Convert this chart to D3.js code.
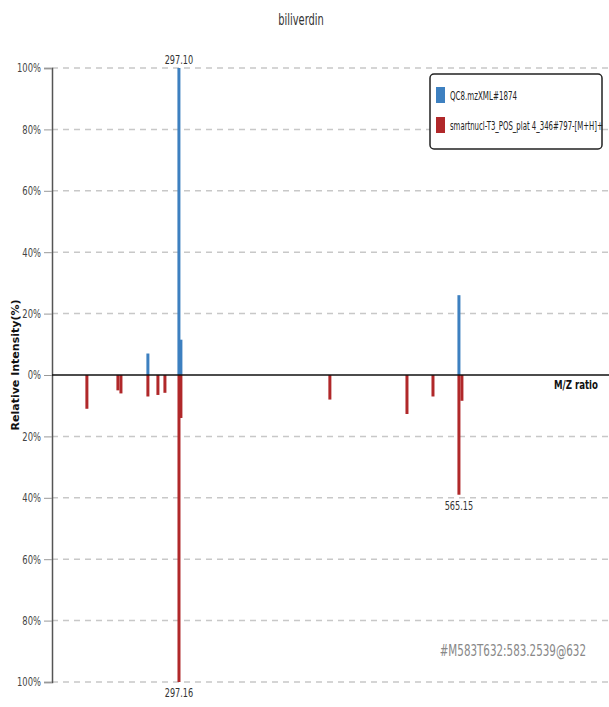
<!DOCTYPE html>
<html>
<head>
<meta charset="utf-8">
<script src="https://cdn.jsdelivr.net/npm/d3@7"></script>
<style>
    body { margin: 0; background: #fff; }
    text { font-family: "DejaVu Sans", sans-serif; }
</style>
</head>
<body>
<div id="chart"></div>
<script>
// spectrum data (m/z, relative intensity %)
var queryMz = [267.4, 297.10, 299.0, 565.15];
var queryIntensity = [7, 100, 11.5, 26];
var refMz = [209.0, 238.7, 241.6, 267.4, 277.0, 283.7, 297.16, 299.0, 441.6, 515.4, 540.3, 565.15, 568.0];
var refIntensity = [11, 5, 6, 7, 6.5, 5.8, 100, 14, 8, 12.7, 7, 39, 8.4];
var yTicks = [-100, -80, -60, -40, -20, 0, 20, 40, 60, 80, 100];
var seriesNames = ["QC8.mzXML#1874", "smartnucl-T3_POS_plat 4_346#797-[M+H]+"];
var peakLabels = [
    { mz: 297.10, value: 100, text: "297.10" },
    { mz: 297.16, value: -100, text: "297.16" },
    { mz: 565.15, value: -39, text: "565.15" }
];

// squeeze text horizontally (the original uses a narrow font)
// f < 1 is a factor, f > 1 is a target width in px
function condense(sel, f) {
    sel.each(function() {
        var t = d3.select(this);
        var k = f > 1 ? f / this.getComputedTextLength() : f;
        var x = +t.attr("x") || 0;
        var y = +t.attr("y") || 0;
        var prev = t.attr("transform") || "";
        t.attr("x", 0).attr("y", 0)
            .attr("transform", prev + " translate(" + x + "," + y + ") scale(" + k + ",1)");
    });
}

function init() {
    var w = 609;
    var h = 707;
    var left = 52;
    var top = 68;
    var bottom = 682;
    var blue = "#3d80c0";
    var red = "#b0282a";

    var svg = d3.select("#chart")
        .append("svg")
        .attr("width", w)
        .attr("height", h);

    var xScale = d3.scaleLinear()
        .domain([175.6, 708.8])
        .range([left, w]);

    var yScale = d3.scaleLinear()
        .domain([-100, 100])
        .range([bottom, top]);

    // title
    svg.append("text")
        .attr("x", 301)
        .attr("y", 25)
        .attr("text-anchor", "middle")
        .attr("font-size", 15)
        .attr("fill", "#333")
        .text("biliverdin")
        .call(condense, 0.66);

    // dashed grid lines
    svg.selectAll(".grid")
        .data(yTicks.filter(function(d) { return d !== 0; }))
        .enter()
        .append("line")
        .attr("class", "grid")
        .attr("x1", left)
        .attr("x2", w)
        .attr("y1", function(d) { return yScale(d); })
        .attr("y2", function(d) { return yScale(d); })
        .attr("stroke", "#c8c8c8")
        .attr("stroke-width", 1.5)
        .attr("stroke-dasharray", "6,5");

    // y axis
    var yAxis = d3.axisLeft(yScale)
        .tickValues(yTicks)
        .tickSize(8)
        .tickFormat(function(d) { return Math.abs(d) + "%"; });

    var gy = svg.append("g")
        .attr("transform", "translate(" + left + ",0)")
        .call(yAxis);
    gy.select(".domain").attr("stroke", "#555").attr("stroke-width", 1.5);
    gy.selectAll(".tick line").attr("stroke", "#999");
    gy.selectAll(".tick text")
        .attr("font-size", 12)
        .attr("fill", "#444")
        .attr("font-family", "'DejaVu Sans', sans-serif")
        .call(condense, 0.7);

    svg.append("text")
        .attr("transform", "translate(19," + 365 + ") rotate(-90)")
        .attr("text-anchor", "middle")
        .attr("font-size", 11)
        .attr("font-weight", "bold")
        .attr("fill", "#111")
        .text("Relative Intensity(%)");

    // bars: query series up, reference series down
    svg.selectAll(".qbar")
        .data(queryMz)
        .enter()
        .append("rect")
        .attr("class", "qbar")
        .attr("x", function(d) { return xScale(d) - 1.5; })
        .attr("y", function(d, i) { return yScale(queryIntensity[i]); })
        .attr("width", 3)
        .attr("height", function(d, i) { return yScale(0) - yScale(queryIntensity[i]); })
        .attr("fill", blue);

    svg.selectAll(".rbar")
        .data(refMz)
        .enter()
        .append("rect")
        .attr("class", "rbar")
        .attr("x", function(d) { return xScale(d) - 1.5; })
        .attr("y", yScale(0))
        .attr("width", 3)
        .attr("height", function(d, i) { return yScale(-refIntensity[i]) - yScale(0); })
        .attr("fill", red);

    // zero line
    svg.append("line")
        .attr("x1", left)
        .attr("x2", w)
        .attr("y1", yScale(0))
        .attr("y2", yScale(0))
        .attr("stroke", "#111")
        .attr("stroke-width", 1.5);

    svg.append("text")
        .attr("x", 598)
        .attr("y", 389)
        .attr("text-anchor", "end")
        .attr("font-size", 12)
        .attr("font-weight", "bold")
        .attr("fill", "#111")
        .text("M/Z ratio")
        .call(condense, 0.72);

    // peak labels
    svg.selectAll(".plabel")
        .data(peakLabels)
        .enter()
        .append("text")
        .attr("class", "plabel")
        .attr("x", function(d) { return xScale(d.mz); })
        .attr("y", function(d) { return d.value > 0 ? yScale(d.value) - 4 : yScale(d.value) + 15; })
        .attr("text-anchor", "middle")
        .attr("font-size", 12)
        .attr("fill", "#333")
        .text(function(d) { return d.text; })
        .call(condense, 0.68);

    // legend
    var legend = svg.append("g");
    legend.append("rect")
        .attr("x", 430)
        .attr("y", 74)
        .attr("width", 172)
        .attr("height", 75)
        .attr("rx", 4)
        .attr("fill", "#fff")
        .attr("stroke", "#222")
        .attr("stroke-width", 1.5);

    legend.selectAll(".sw")
        .data(seriesNames)
        .enter()
        .append("rect")
        .attr("x", 436)
        .attr("y", function(d, i) { return 87 + i * 30; })
        .attr("width", 9)
        .attr("height", 16)
        .attr("fill", function(d, i) { return i === 0 ? blue : red; });

    var legendWidths = [67, 153];
    legend.selectAll(".lt")
        .data(seriesNames)
        .enter()
        .append("text")
        .attr("x", 450)
        .attr("y", function(d, i) { return 100 + i * 30; })
        .attr("font-size", 12)
        .attr("fill", "#222")
        .text(function(d) { return d; })
        .each(function(d, i) { d3.select(this).call(condense, legendWidths[i]); });

    // compound id
    svg.append("text")
        .attr("x", 586)
        .attr("y", 656)
        .attr("text-anchor", "end")
        .attr("font-size", 15)
        .attr("fill", "#888")
        .text("#M583T632:583.2539@632")
        .call(condense, 0.69);
}

window.onload = init;
</script>
</body>
</html>
